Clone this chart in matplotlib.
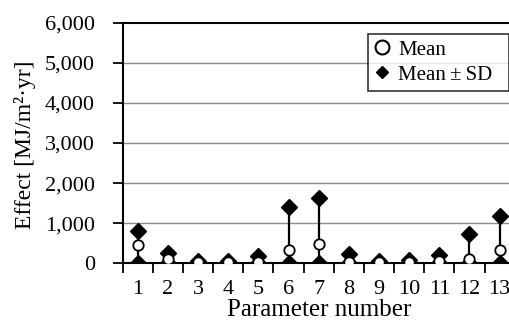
import matplotlib
matplotlib.use("Agg")
import matplotlib.pyplot as plt
from matplotlib.lines import Line2D
from matplotlib.ticker import FuncFormatter, FixedLocator
import numpy as np

plt.rcParams['font.family'] = ['Liberation Serif', 'DejaVu Serif']

params = list(range(1, 14))
mean = [450, 110, 20, 20, 40, 320, 470, 40, 20, 30, 60, 100, 320]
upper = [810, 260, 60, 45, 170, 1400, 1620, 240, 50, 70, 200, 740, 1170]
lower = [0, 0, 0, 0, 0, 0, 0, 0, 0, 0, 0, 0, 0]
yticks = [0, 1000, 2000, 3000, 4000, 5000, 6000]

fig = plt.figure(figsize=(5.1, 3.2), dpi=100)
ax = fig.add_axes([0.2406, 0.1772, 0.7686, 0.7519])

for y in yticks[1:-1]:
    ax.axhline(y, color='#8c8c8c', lw=1.0, zorder=1)

ax.vlines(params, lower, upper, color='black', lw=1.6, zorder=2)
ax.plot(params, upper, 'D', color='black', ms=8.5, zorder=3, ls='none')
ax.plot(params, lower, 'D', color='black', ms=8.5, zorder=3, ls='none')
ax.plot(params, mean, 'o', mfc='white', mec='black', mew=1.3, ms=7.5, zorder=4, ls='none')

ax.set_xlim(0.5, 13.5)
ax.set_ylim(0, 6000)
ax.set_yticks(yticks)
ax.yaxis.set_major_formatter(FuncFormatter(lambda v, p: f"{int(v):,}"))
ax.set_xticks(params)
ax.set_xticklabels([str(p) for p in params])
ax.xaxis.set_minor_locator(FixedLocator(np.arange(0.5, 14, 1)))
ax.tick_params(axis='x', which='major', length=0, pad=12, labelsize=16)
ax.tick_params(axis='x', which='minor', direction='out', length=7, width=1.3)
ax.tick_params(axis='y', direction='out', length=7, width=1.3, pad=13, labelsize=16)

for s in ['left', 'bottom', 'top']:
    ax.spines[s].set_linewidth(1.5)
    ax.spines[s].set_color('black')
ax.spines['right'].set_visible(False)

ax.set_ylabel("Effect [MJ/m²·yr]", fontsize=17, va='center')
ax.yaxis.set_label_coords(-0.25, 0.492)
ax.set_xlabel("Parameter number", fontsize=18, va='baseline')
ax.xaxis.set_label_coords(0.501, -0.221)

handles = [
    Line2D([], [], ls='none', marker='o', mfc='white', mec='black', mew=1.5, ms=10),
    Line2D([], [], ls='none', marker='D', color='black', ms=6.5),
]
leg = ax.legend(handles, ["Mean", "Mean\u2009±\u2009SD"], loc='upper left',
                bbox_to_anchor=(0.7216, 0.7125, 0.2765, 0.1815),
                bbox_transform=fig.transFigure, mode='expand',
                borderaxespad=0, fontsize=15, frameon=True, fancybox=False,
                handlelength=0.7, handletextpad=0.45, borderpad=0.3,
                labelspacing=0.25)
leg.get_frame().set_edgecolor('black')
leg.get_frame().set_linewidth(1.2)

fig.savefig("out.png", dpi=100)
